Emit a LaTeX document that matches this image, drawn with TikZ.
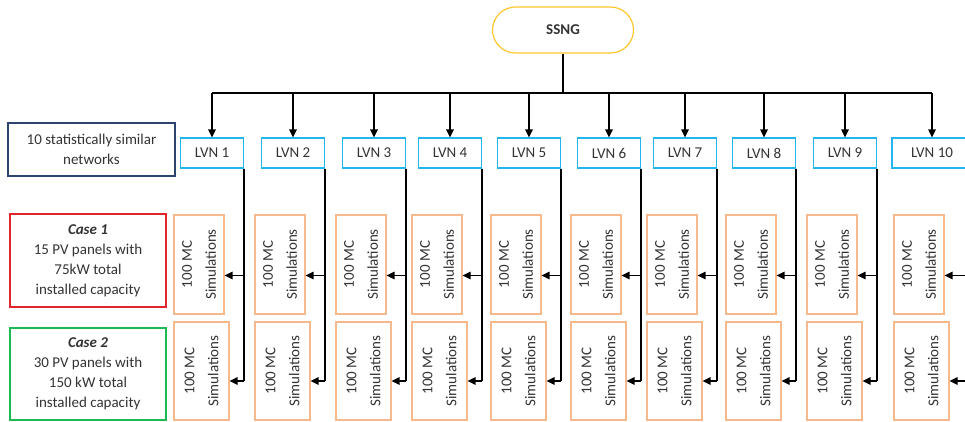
\documentclass[tikz,border=0pt]{standalone}
\usepackage{fontspec}
\setmainfont{Carlito}
\usetikzlibrary{arrows.meta}

\definecolor{txtgray}{HTML}{333333}
\definecolor{lvnblue}{HTML}{22B5F0}
\definecolor{simorange}{HTML}{F7B88C}
\definecolor{ssngyellow}{HTML}{FFC62E}
\definecolor{netnavy}{HTML}{2E4470}
\definecolor{casered}{HTML}{E0262B}
\definecolor{casegreen}{HTML}{1DB954}

\tikzset{
  every node/.style={font=\fontsize{15}{20}\selectfont, text=txtgray},
  lvn/.style={draw=lvnblue, line width=1.2pt, minimum width=63pt, minimum height=30pt, inner sep=0pt},
  simbox/.style={draw=simorange, line width=1.2pt, minimum width=50pt, minimum height=99pt, inner sep=0pt},
  sidebox/.style={line width=1.2pt, align=center, inner sep=0pt},
  link/.style={-{Triangle[length=8pt,width=7.5pt]}, line width=1.3pt, draw=black},
  wire/.style={line width=1.3pt, draw=black},
}

\newcommand{\simtext}{\rotatebox{90}{\renewcommand\arraystretch{1.2}\begin{tabular}{@{}c@{}}100 MC\\Simulations\end{tabular}}}

\begin{document}
\begin{tikzpicture}[x=1pt,y=-1pt]
        \useasboundingbox (0,0) rectangle (965,422);
        \clip (0,0) rectangle (965,422);

        % Top of the tree
        \node[draw=ssngyellow, line width=1.2pt, rounded corners=23pt,
              minimum width=141pt, minimum height=46pt, font=\fontsize{15}{20}\selectfont\bfseries]
              (ssng) at (563,30) {SSNG};
        \coordinate (bus) at (563,93);

        % Legend boxes on the left
        \node[sidebox, draw=netnavy, minimum width=167pt, minimum height=53pt]
              (nets) at (91.5,149.5) {10 statistically similar\\networks};
        \node[sidebox, draw=casered, minimum width=156pt, minimum height=93pt]
              (case1) at (88,260.5) {\textbf{\textit{Case 1}}\\15 PV panels with\\75kW total\\installed capacity};
        \node[sidebox, draw=casegreen, minimum width=156pt, minimum height=92pt]
              (case2) at (88,374) {\textbf{\textit{Case 2}}\\30 PV panels with\\150 kW total\\installed capacity};

        % Networks and their simulation runs
        \foreach \i/\x/\w in {1/212/63, 2/293/63, 3/374/63, 4/450/63, 5/529/63,
                              6/609/63, 7/685/63, 8/764/63, 9/845/63, 10/932/80} {
            \node[lvn, minimum width=\w pt] (lvn\i) at (\x,153) {LVN \i};
            \node[simbox] (simA\i) at (\x-13,264.5) {\simtext};
            \node[simbox, minimum width=55pt, minimum height=98pt] (simB\i) at (\x-10.5,371) {\simtext};
            \coordinate (tipA\i) at ([yshift=-11pt]simA\i.east);
            \coordinate (tipB\i) at ([yshift=-10pt]simB\i.east);

            \draw[link] (lvn\i.north |- bus) -- (lvn\i.north);
            \draw[wire] (lvn\i.south east) -- (lvn\i.south east |- tipB\i);
            \draw[link] (lvn\i.south east |- tipA\i) -- (tipA\i);
            \draw[link] (lvn\i.south east |- tipB\i) -- (tipB\i);
        }

        % Feeder bus
        \draw[wire] (ssng.south) -- (bus);
        \draw[wire] (lvn1.north |- bus) -- (lvn10.north |- bus);
\end{tikzpicture}
\end{document}
